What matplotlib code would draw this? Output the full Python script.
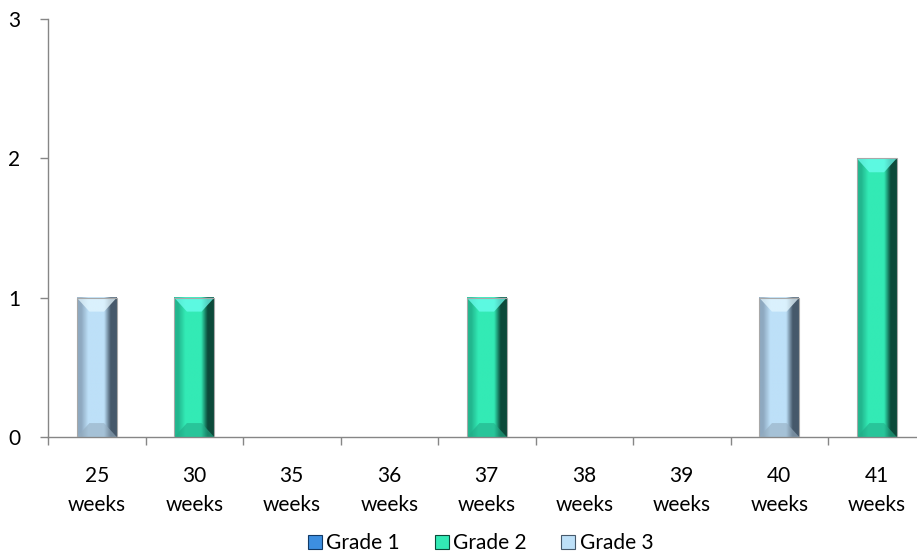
import matplotlib.pyplot as plt
import numpy as np
from matplotlib.colors import LinearSegmentedColormap
from matplotlib.patches import Polygon
from matplotlib.lines import Line2D

categories = ["25\nweeks", "30\nweeks", "35\nweeks", "36\nweeks", "37\nweeks",
              "38\nweeks", "39\nweeks", "40\nweeks", "41\nweeks"]
grade1 = [0, 0, 0, 0, 0, 0, 0, 0, 0]
grade2 = [0, 1, 0, 0, 1, 0, 0, 0, 2]
grade3 = [1, 0, 0, 0, 0, 0, 0, 1, 0]
series_names = ["Grade 1", "Grade 2", "Grade 3"]

# left edge, body, right edge, top bevel, bottom bevel
shades = {
    "Grade 1": ["#2a6cb0", "#3d8fe0", "#123a66", "#7ec0ff", "#2a6cb0"],
    "Grade 2": ["#22b68e", "#33eab5", "#0c4a3a", "#6bfff0", "#22ad88"],
    "Grade 3": ["#8ea9c0", "#bde0f8", "#46596b", "#e4f7ff", "#95adc0"],
}

plt.rcParams["font.family"] = ["Lato", "DejaVu Sans"]
fig = plt.figure(figsize=(9.17, 5.56), dpi=100)
ax = fig.add_axes([48 / 917, 1 - 437 / 556, 9 * 97.5 / 917, 418 / 556])

x = np.arange(len(categories))
bar_w = 0.41
bx, by = 0.13, 0.1  # bevel size in data units


def bevel_bar(rect, cols):
    x0, y0 = rect.get_x(), rect.get_y()
    w, h = rect.get_width(), rect.get_height()
    if h <= 0:
        return
    x1, y1 = x0 + w, y0 + h
    cmap = LinearSegmentedColormap.from_list(
        "b", [(0, cols[0]), (0.1, cols[0]), (0.28, cols[1]), (0.68, cols[1]),
              (0.85, cols[2]), (1, cols[2])])
    grad = np.linspace(0, 1, 64).reshape(1, -1)
    ax.imshow(grad, cmap=cmap, extent=[x0, x1, y0, y1], aspect="auto",
              interpolation="bilinear", zorder=2)
    ax.add_patch(Polygon([(x0, y1), (x1, y1), (x1 - bx, y1 - by), (x0 + bx, y1 - by)],
                         closed=True, facecolor=cols[3], edgecolor="none", alpha=0.75, zorder=3))
    ax.add_patch(Polygon([(x0, y0), (x1, y0), (x1 - bx, y0 + by), (x0 + bx, y0 + by)],
                         closed=True, facecolor=cols[4], edgecolor="none", alpha=0.6, zorder=3))
    ax.add_patch(plt.Rectangle((x0, y0), w, h, fill=False, edgecolor="#a8a8a8",
                               linewidth=0.8, zorder=4))


bottom = np.zeros(len(categories))
for name, vals in zip(series_names, [grade1, grade2, grade3]):
    bars = ax.bar(x, vals, bar_w, bottom=bottom, color="none", edgecolor="none", zorder=1)
    for rect in bars:
        bevel_bar(rect, shades[name])
    bottom += np.array(vals)

ax.set_xlim(-0.5, len(categories) - 0.5)
ax.set_ylim(0, 3)
ax.set_yticks([0, 1, 2, 3])
ax.set_xticks(x)
ax.set_xticklabels(categories, fontsize=15, linespacing=1.55)
ax.set_xticks(np.arange(len(categories) + 1) - 0.5, minor=True)
ax.tick_params(axis="x", which="major", length=0, pad=21)
ax.tick_params(axis="x", which="minor", length=6, color="#868686", width=1)
ax.tick_params(axis="y", length=6, color="#868686", width=1, labelsize=15, pad=14)

for side in ["top", "right"]:
    ax.spines[side].set_visible(False)
for side in ["left", "bottom"]:
    ax.spines[side].set_color("#868686")
    ax.spines[side].set_linewidth(1)

handles = [Line2D([], [], marker="s", linestyle="none", markersize=10,
                  markerfacecolor=shades[n][1], markeredgecolor=shades[n][2], markeredgewidth=0.8)
           for n in series_names]
fig.legend(handles, series_names, loc="center", bbox_to_anchor=(480 / 917, 1 - 543 / 556),
           ncol=3, frameon=False, fontsize=15, handletextpad=0.15, columnspacing=1.6,
           handlelength=0.8)

fig.savefig("out.png", dpi=100)
